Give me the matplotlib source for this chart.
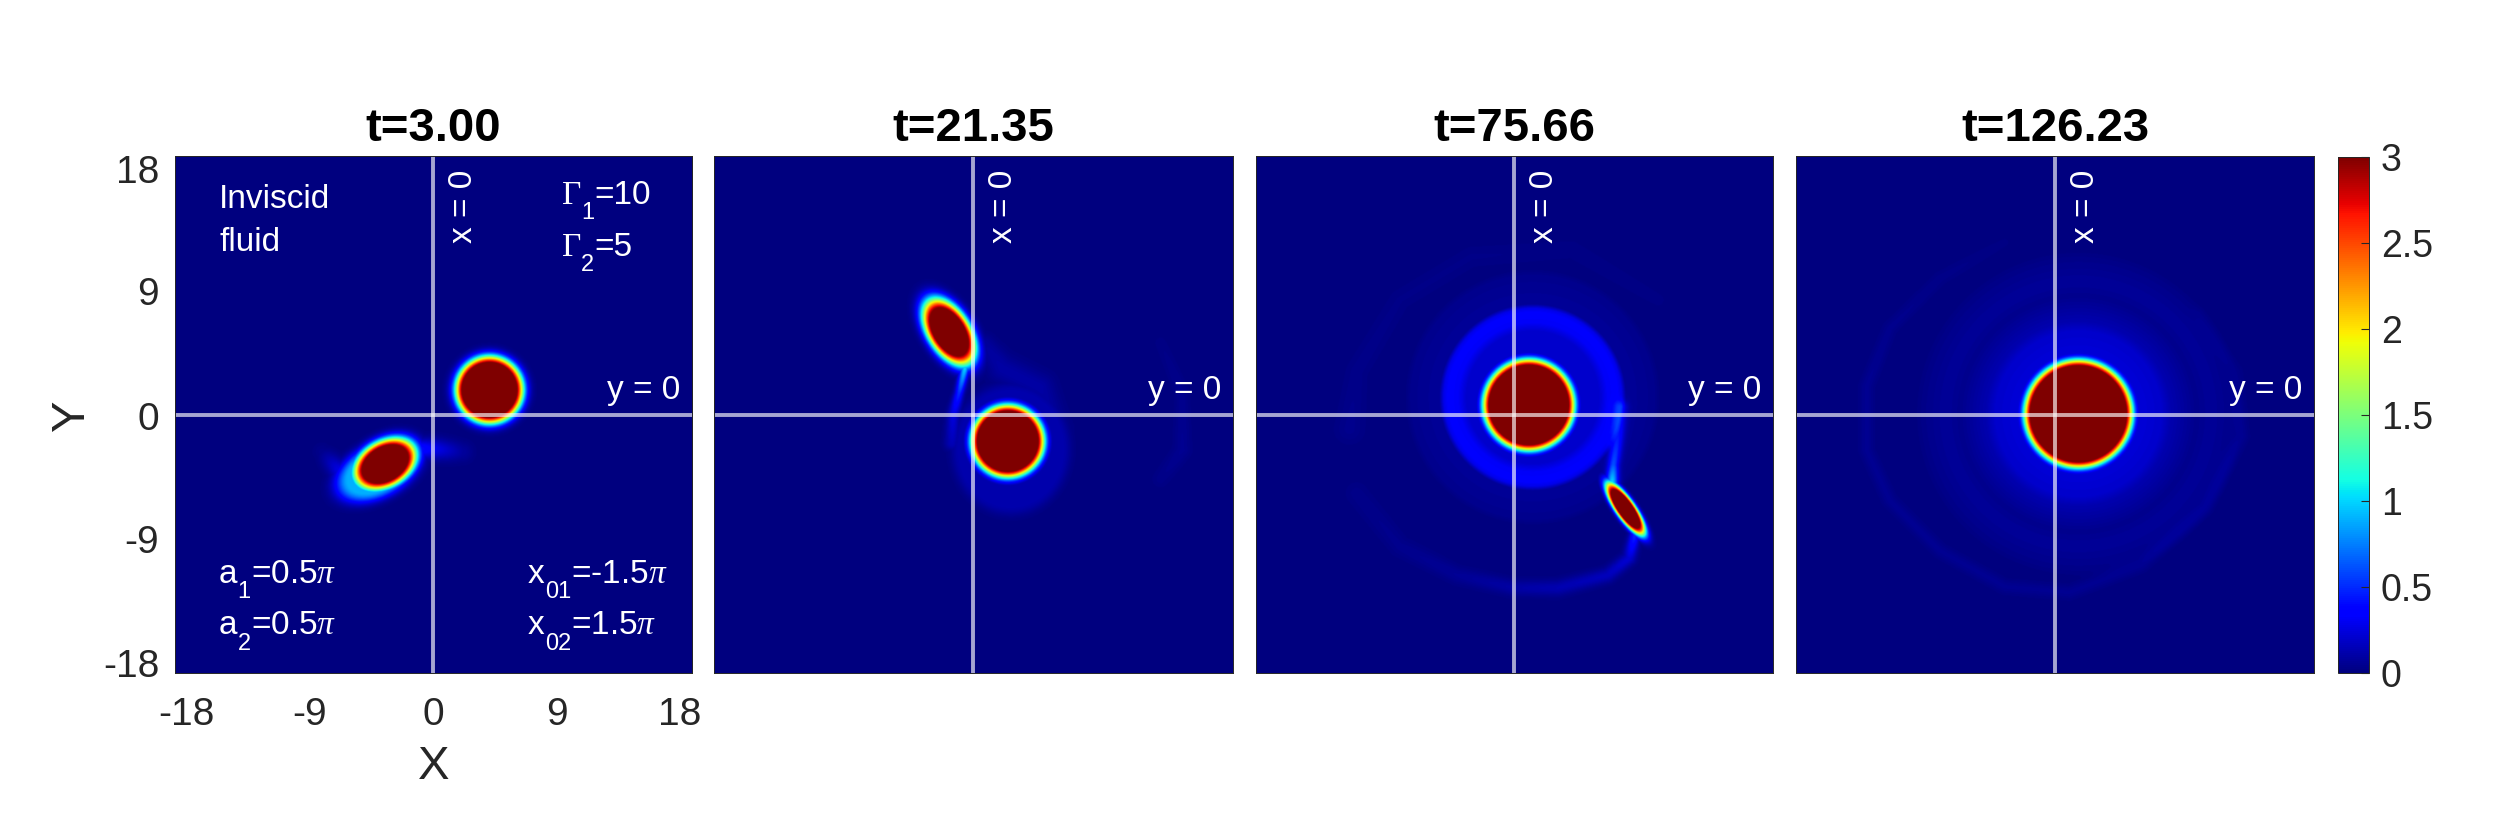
import numpy as np
import matplotlib
matplotlib.use('Agg')
import matplotlib.pyplot as plt
from matplotlib.transforms import ScaledTranslation

plt.rcParams['font.family'] = ['Liberation Sans', 'DejaVu Sans']
plt.rcParams['mathtext.fontset'] = 'custom'
plt.rcParams['mathtext.rm'] = 'Liberation Sans'
plt.rcParams['mathtext.it'] = 'Liberation Serif:italic'
plt.rcParams['mathtext.cal'] = 'Liberation Serif'

titles = ['t=3.00', 't=21.35', 't=75.66', 't=126.23']
ticks = [-18, -9, 0, 9, 18]
tick_labels = ['-18', '-9', '0', '9', '18']
cbar_ticks = [0, 0.5, 1, 1.5, 2, 2.5, 3]
cbar_labels = ['0', '0.5', '1', '1.5', '2', '2.5', '3']

# values
# blobs: cx, cy, semi axis a, semi axis b, angle, peak, falloff
blobs_1 = [(3.86, 1.72, 1.75, 1.75, 0, 3.2, 0.66),
           (-3.4, -3.45, 1.5, 1.02, 30, 3.2, 0.62),
           (-3.9, -3.9, 2.2, 1.3, 28, 0.9, 0.6)]
blobs_2 = [(2.38, -1.86, 1.95, 1.95, 0, 3.2, 0.64),
           (-1.69, 5.76, 1.6, 0.9, -58, 3.2, 0.6),
           (2.6, -2.4, 3.6, 4.0, 0, 0.12, 0.6)]
blobs_3 = [(1.0, 0.67, 2.62, 2.62, 0, 3.2, 0.62),
           (7.74, -6.58, 1.38, 0.42, -55, 3.2, 0.27)]
blobs_4 = [(1.63, 0.05, 3.2, 3.2, 0, 3.2, 0.62)]

# streaks: list of x, y, value, width along filaments
streaks_1 = [[(-7.8, -2.6, 0.04, 0.6), (-6.2, -4.3, 0.35, 0.7), (-4.5, -4.8, 0.8, 0.5)],
             [(-1.5, -2.4, 0.5, 0.6), (0.0, -2.4, 0.3, 0.7), (2.0, -2.6, 0.08, 0.7)]]
streaks_2 = [[(-0.6, 3.2, 1.0, 0.3), (-1.0, 1.5, 0.5, 0.3), (-1.4, 0.0, 0.25, 0.4), (-1.5, -2.0, 0.15, 0.5)],
             [(0.8, 4.9, 0.08, 0.7), (2.0, 3.2, 0.1, 1.0), (4.6, 1.9, 0.1, 1.0), (6.0, -1.0, 0.06, 0.8)],
             [(13.0, 5.0, 0.02, 0.5), (14.5, 1.5, 0.04, 0.5), (14.5, -2.5, 0.05, 0.6), (13.0, -4.5, 0.03, 0.6)]]
streaks_3 = [[(6.8, -4.8, 1.0, 0.4), (6.9, -3.5, 0.55, 0.38), (7.2, -1.5, 0.36, 0.42), (7.4, 0.5, 0.28, 0.45)],
             [(8.4, -8.4, 0.5, 0.35), (8.0, -10.0, 0.22, 0.45), (6.5, -11.2, 0.16, 0.5), (3.0, -12.1, 0.13, 0.55),
              (0.0, -12.1, 0.1, 0.55), (-4.0, -11.2, 0.06, 0.6), (-8.0, -9.2, 0.04, 0.7), (-11.0, -5.5, 0.03, 0.8)],
             [(-11.5, -1.0, 0.04, 1.0), (-11.0, 3.0, 0.03, 0.8), (-8.0, 8.0, 0.025, 0.8), (-3.0, 11.0, 0.025, 0.8),
              (4.0, 11.5, 0.02, 0.8), (10.0, 8.0, 0.015, 0.8)]]
streaks_4 = [[(-3.5, 12.0, 0.015, 0.5), (-8.0, 9.5, 0.03, 0.5), (-11.5, 6.0, 0.04, 0.5), (-13.1, 2.0, 0.05, 0.5),
              (-13.1, -2.5, 0.05, 0.5), (-11.5, -6.0, 0.05, 0.5), (-8.0, -9.5, 0.05, 0.5), (-3.5, -12.0, 0.05, 0.5),
              (1.0, -12.4, 0.05, 0.5), (6.0, -10.5, 0.05, 0.5), (10.5, -6.5, 0.05, 0.5), (13.0, -1.5, 0.05, 0.5),
              (12.6, 3.0, 0.03, 0.5), (10.0, 7.0, 0.015, 0.5)]]

# halo around main vortex: centre, radii, values
halo_c = [(0, 0), (0, 0), (1.27, 1.2), (1.63, 0.05)]
halo_r = [[0, 1], [0, 1], [0, 4.6, 5.2, 5.9, 6.2, 6.5, 8.5, 9.0], [0, 4.0, 5.8, 6.4, 7.0, 8.2, 9.2, 10.0, 10.8, 11.5]]
halo_v = [[0, 0], [0, 0], [0.2, 0.2, 0.32, 0.34, 0.28, 0.07, 0.04, 0], [0.24, 0.24, 0.2, 0.13, 0.1, 0.04, 0.07, 0.05, 0.03, 0]]

# pixel shift of the tick labels in the first panel, they sit pulled inwards
x_label_shift = [12, 6, 0, -6, -12]
y_label_shift = [10, 5, -2, -6, -13]

all_blobs = [blobs_1, blobs_2, blobs_3, blobs_4]
all_streaks = [streaks_1, streaks_2, streaks_3, streaks_4]

lefts = [174.5, 714, 1256, 1796]
widths = [517.5, 518.5, 516.5, 518]

x = np.linspace(-18, 18, 720)
y = np.linspace(-18, 18, 720)
X, Y = np.meshgrid(x, y)


def add_blob(f, b):
    cx, cy, a, bb, ang, peak, w = b
    t = np.deg2rad(ang)
    u = (X - cx) * np.cos(t) + (Y - cy) * np.sin(t)
    v = -(X - cx) * np.sin(t) + (Y - cy) * np.cos(t)
    d = (np.sqrt((u / a) ** 2 + (v / bb) ** 2) - 1) * min(a, bb)
    d = np.maximum(d, 0)
    return np.maximum(f, peak * np.exp(-(d / w) ** 2))


def add_streak(f, pts):
    s = np.zeros_like(f)
    for p, q in zip(pts[:-1], pts[1:]):
        dx, dy = q[0] - p[0], q[1] - p[1]
        t = ((X - p[0]) * dx + (Y - p[1]) * dy) / (dx * dx + dy * dy)
        t = np.clip(t, 0, 1)
        d = np.hypot(X - p[0] - t * dx, Y - p[1] - t * dy)
        val = p[2] + t * (q[2] - p[2])
        wid = p[3] + t * (q[3] - p[3])
        s = np.maximum(s, val * np.exp(-(d / wid) ** 2))
    return f + s


def sub_text(ax, px, py, base, sub, rest):
    # subscript sits lower than mathtext puts it, so place the pieces one after the other
    t1 = ax.text(px, py, base, color='white', fontsize=24)
    t2 = ax.annotate(sub, xy=(1, py), xycoords=(t1, 'data'), xytext=(0, -11), textcoords='offset points',
                     color='white', fontsize=17)
    ax.annotate(rest, xy=(1, py), xycoords=(t2, 'data'), xytext=(0, 0), textcoords='offset points',
                color='white', fontsize=24)


fig = plt.figure(figsize=(25, 8.33), dpi=100)
W, H = 2500, 833
top, bottom = 156, 673

for i in range(4):
    ax = fig.add_axes([lefts[i] / W, (H - bottom) / H, widths[i] / W, (bottom - top) / H])
    r = np.hypot(X - halo_c[i][0], Y - halo_c[i][1])
    field = np.interp(r, halo_r[i], halo_v[i], right=0)
    for s in all_streaks[i]:
        field = add_streak(field, s)
    for b in all_blobs[i]:
        field = add_blob(field, b)
    im = ax.imshow(field, extent=[-18, 18, -18, 18], origin='lower', cmap='jet', vmin=0, vmax=3,
                   interpolation='bilinear', aspect='auto')
    ax.axvline(0, color='white', alpha=0.65, lw=2.8)
    ax.axhline(0, color='white', alpha=0.65, lw=2.8)
    ax.set_title(titles[i], fontsize=34, fontweight='bold', color='black', pad=11)
    ax.text(17.2, 1.05, 'y = 0', color='white', fontsize=24, ha='right', va='baseline')
    ax.text(2.1, 17.05, 'x = 0', color='white', fontsize=24, rotation=90, ha='center', va='top')
    ax.tick_params(length=0)
    for sp in ax.spines.values():
        sp.set_linewidth(0.7)
        sp.set_color('#262626')
    if i == 0:
        ax.set_xticks(ticks)
        ax.set_xticklabels(tick_labels)
        ax.set_yticks(ticks)
        ax.set_yticklabels(tick_labels)
        ax.tick_params(labelsize=28, labelcolor='#262626')
        ax.tick_params(axis='x', pad=17)
        ax.tick_params(axis='y', pad=11)
        for lab, sh in zip(ax.get_xticklabels(), x_label_shift):
            lab.set_transform(lab.get_transform() + ScaledTranslation(sh / 100, 0, fig.dpi_scale_trans))
        for lab, sh in zip(ax.get_yticklabels(), y_label_shift):
            lab.set_transform(lab.get_transform() + ScaledTranslation(0, sh / 100, fig.dpi_scale_trans))
        ax.text(-14.9, 15.0, 'Inviscid', color='white', fontsize=24, va='center')
        ax.text(-14.9, 12.0, 'fluid', color='white', fontsize=24, va='center')
        sub_text(ax, 8.9, 14.65, r'$\mathcal{\Gamma}$', '1', '=10')
        sub_text(ax, 8.9, 11.05, r'$\mathcal{\Gamma}$', '2', '=5')
        sub_text(ax, -14.9, -11.7, 'a', '1', r'=0.5$\pi$')
        sub_text(ax, -14.9, -15.3, 'a', '2', r'=0.5$\pi$')
        sub_text(ax, 6.6, -11.7, 'x', '01', r'=-1.5$\pi$')
        sub_text(ax, 6.6, -15.3, 'x', '02', r'=1.5$\pi$')
    else:
        ax.set_xticks([])
        ax.set_yticks([])

fig.text(72 / W, (H - 415) / H, 'Y', fontsize=34, color='#262626', rotation=90, ha='center', va='center')
fig.text(434 / W, (H - 767) / H, 'X', fontsize=34, color='#262626', ha='center', va='center')

cax = fig.add_axes([2338 / W, (H - bottom) / H, 30.5 / W, (bottom - 157) / H])
cb = fig.colorbar(im, cax=cax, ticks=cbar_ticks)
cb.ax.set_yticklabels(cbar_labels)
cb.ax.tick_params(labelsize=27, labelcolor='#262626', direction='in', length=6, width=0.8, pad=9, color='#262626')
cb.outline.set_linewidth(0.7)
cb.outline.set_edgecolor('#262626')

plt.savefig('out.png', dpi=100)
